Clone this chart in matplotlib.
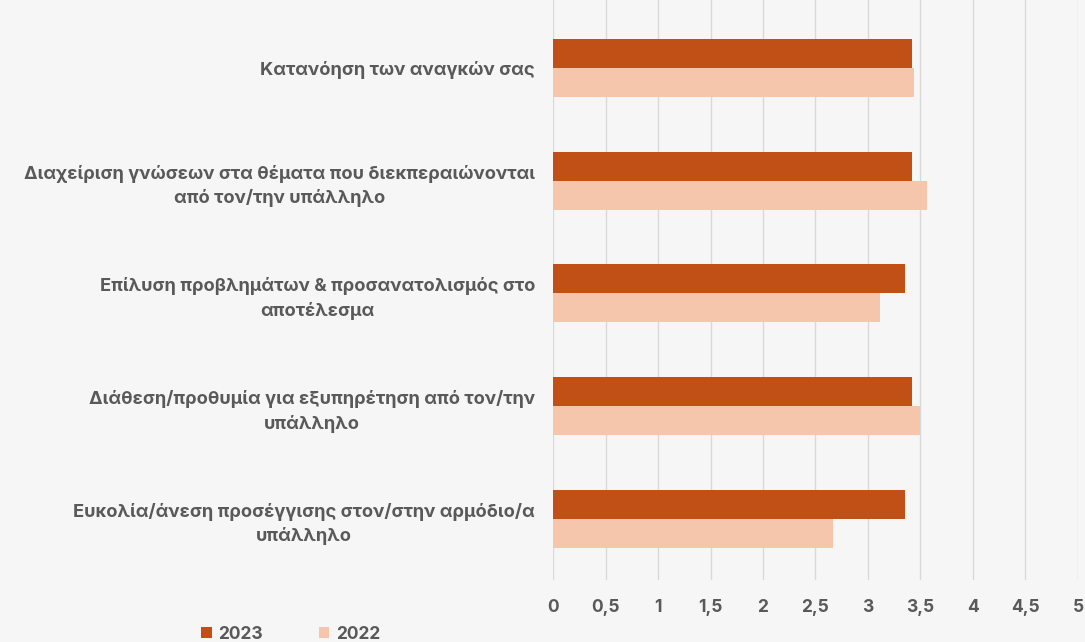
import numpy as np
import matplotlib
matplotlib.use("Agg")
import matplotlib.pyplot as plt

# data
categories = [
    "Κατανόηση των αναγκών σας",
    "Διαχείριση γνώσεων στα θέματα που διεκπεραιώνονται\nαπό τον/την υπάλληλο",
    "Επίλυση προβλημάτων & προσανατολισμός στο\nαποτέλεσμα",
    "Διάθεση/προθυμία για εξυπηρέτηση από τον/την\nυπάλληλο",
    "Ευκολία/άνεση προσέγγισης στον/στην αρμόδιο/α\nυπάλληλο",
]
vals_2023 = [3.42, 3.42, 3.35, 3.42, 3.35]
vals_2022 = [3.44, 3.56, 3.11, 3.50, 2.67]
xticks = [0, 0.5, 1, 1.5, 2, 2.5, 3, 3.5, 4, 4.5, 5]
xticklabels = ["0", "0,5", "1", "1,5", "2", "2,5", "3", "3,5", "4", "4,5", "5"]

c2023 = "#C05016"
c2022 = "#F6C6AC"
txt = "#595959"
bg = "#F6F6F6"

plt.rcParams['font.family'] = ['Inter', 'DejaVu Sans']

fig = plt.figure(figsize=(10.85, 6.42), dpi=100, facecolor=bg)
ax = fig.add_axes([0.5097, 0.0966, 0.4838, 0.9034], facecolor=bg)

y = np.arange(len(categories))
h = 0.257
ax.barh(y - h/2, vals_2023, height=h, color=c2023, label="2023", zorder=3)
ax.barh(y + h/2, vals_2022, height=h, color=c2022, label="2022", zorder=3)

ax.set_xlim(0, 5)
ax.set_ylim(4.54, -0.6)
ax.set_xticks(xticks)
ax.set_xticklabels(xticklabels)
ax.set_yticks(y)
ax.set_yticklabels(categories, multialignment="center", linespacing=1.45)
ax.tick_params(axis="y", length=0, pad=13, labelsize=13.2, labelcolor=txt)
ax.tick_params(axis="x", length=0, pad=14, labelsize=12.5, labelcolor=txt)
for lab in ax.get_xticklabels() + ax.get_yticklabels():
    lab.set_fontweight("bold")

ax.grid(axis="x", color="#D9D9D9", linewidth=1, zorder=0)
for s in ax.spines.values():
    s.set_visible(False)

leg = fig.legend(loc="center", bbox_to_anchor=(0.268, 0.012), ncol=2, frameon=False,
                 handlelength=0.6, handleheight=0.6, handletextpad=0.4, columnspacing=3.2,
                 prop={"size": 12.5, "weight": "bold"})
for t in leg.get_texts():
    t.set_color(txt)

fig.savefig("out.png", dpi=100, facecolor=bg)
